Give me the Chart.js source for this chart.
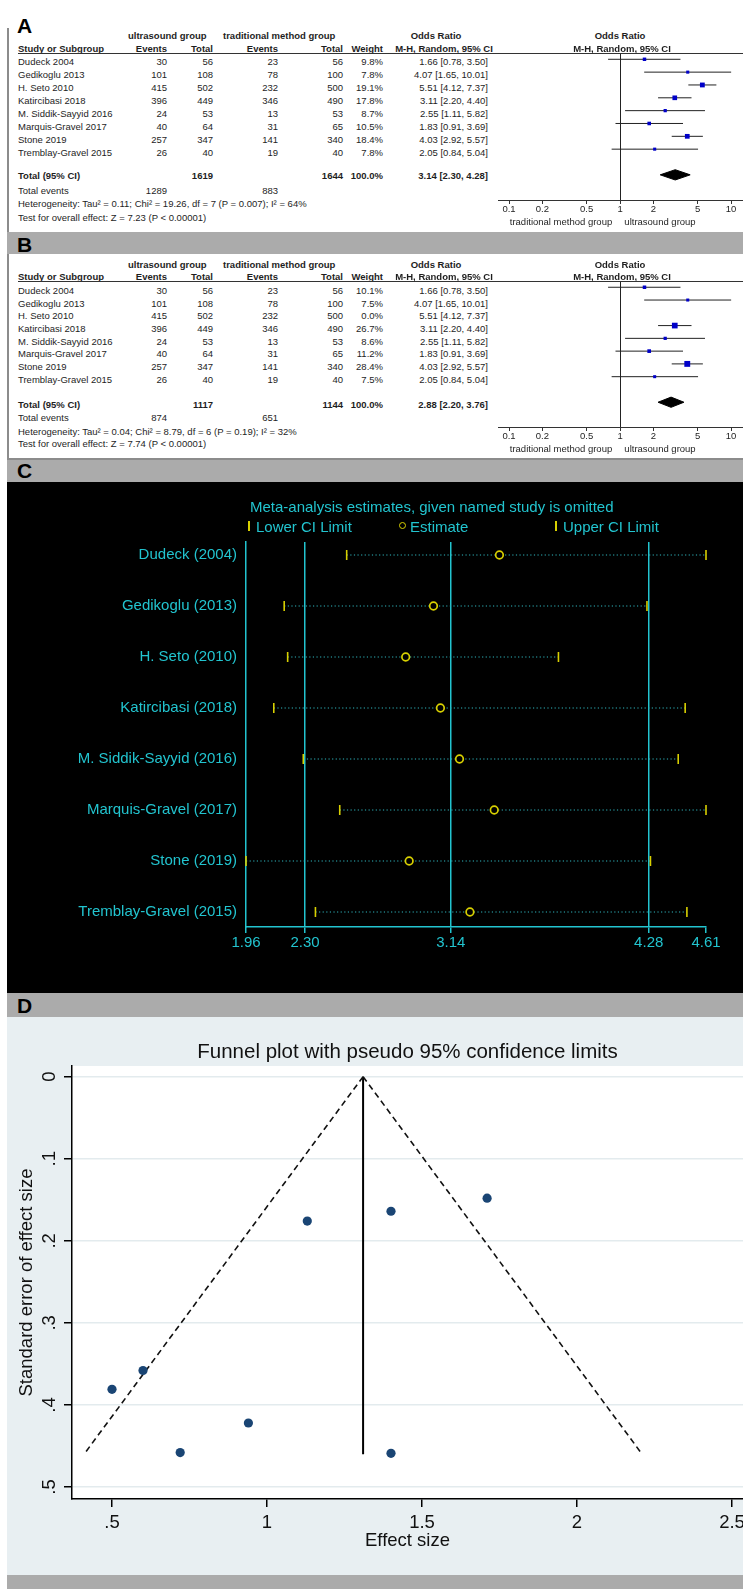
<!DOCTYPE html>
<html>
<head>
<meta charset="utf-8">
<title>Ultrasound group vs traditional method group: meta-analysis</title>
<script src="https://cdn.jsdelivr.net/npm/chart.js@4.4.1/dist/chart.umd.min.js"></script>
<style>
  html, body { margin: 0; padding: 0; }
  body { width: 743px; height: 1589px; overflow: hidden; position: relative; background: #fff;
         font-family: "Liberation Sans", Arial, Helvetica, sans-serif; color: #1e1e1e; }
  .t { position: absolute; white-space: nowrap; }
  .band { position: absolute; left: 7px; width: 736px; background: #ababab; }
  .rule { position: absolute; background: #8c8c8c; }
  .plabel { position: absolute; left: 17px; font-size: 21px; line-height: 21px; font-weight: bold; color: #000; }
  canvas { position: absolute; display: block; }
</style>
</head>
<body>
<!-- panel frames and separator bands -->
<div class="rule" style="left:7px;top:28px;width:1.5px;height:204px"></div>
<div class="band" style="top:232px;height:22px"></div>
<div class="rule" style="left:7px;top:254px;width:1.5px;height:206px"></div>
<div class="rule" style="left:7px;top:458px;width:736px;height:1.5px"></div>
<div class="band" style="top:460px;height:22px"></div>
<div style="position:absolute;left:7px;top:482px;width:736px;height:511px;background:#000"></div>
<div class="band" style="top:993px;height:24px"></div>
<div class="band" style="top:1575px;height:14px"></div>
<div class="plabel" style="top:15px">A</div>
<div class="plabel" style="top:234px">B</div>
<div class="plabel" style="top:460px">C</div>
<div class="plabel" style="top:995px">D</div>

<canvas id="forestA" width="245" height="177" style="left:498px;top:53px"></canvas>
<canvas id="forestB" width="245" height="176" style="left:498px;top:281px"></canvas>
<canvas id="omitC" width="736" height="510" style="left:7px;top:482px"></canvas>
<canvas id="funnelD" width="736" height="558" style="left:7px;top:1017px;background:#e8eff2"></canvas>

<script>
// ---------- study data ----------
const studies = ['Dudeck 2004', 'Gedikoglu 2013', 'H. Seto 2010', 'Katircibasi 2018',
                 'M. Siddik-Sayyid 2016', 'Marquis-Gravel 2017', 'Stone 2019', 'Tremblay-Gravel 2015'];
const usEvents = [30, 101, 415, 396, 24, 40, 257, 26];
const usTotal  = [56, 108, 502, 449, 53, 64, 347, 40];
const tmEvents = [23, 78, 232, 346, 13, 31, 141, 19];
const tmTotal  = [56, 100, 500, 490, 53, 65, 340, 40];
const orEst  = [1.66, 4.07, 5.51, 3.11, 2.55, 1.83, 4.03, 2.05];
const orLow  = [0.78, 1.65, 4.12, 2.20, 1.11, 0.91, 2.92, 0.84];
const orHigh = [3.50, 10.01, 7.37, 4.40, 5.82, 3.69, 5.57, 5.04];
const orTicks = [0.1, 0.2, 0.5, 1, 2, 5, 10];
const orTickLabels = ['0.1', '0.2', '0.5', '1', '2', '5', '10'];

// all studies
const weightsA = [9.8, 7.8, 19.1, 17.8, 8.7, 10.5, 18.4, 7.8];
const pooledA  = [3.14, 2.30, 4.28];
const totalsA  = [1619, 1644];
const eventsA  = [1289, 883];
const hetA  = 'Heterogeneity: Tau² = 0.11; Chi² = 19.26, df = 7 (P = 0.007); I² = 64%';
const testA = 'Test for overall effect: Z = 7.23 (P < 0.00001)';

// H. Seto 2010 excluded
const weightsB = [10.1, 7.5, 0.0, 26.7, 8.6, 11.2, 28.4, 7.5];
const pooledB  = [2.88, 2.20, 3.76];
const totalsB  = [1117, 1144];
const eventsB  = [874, 651];
const hetB  = 'Heterogeneity: Tau² = 0.04; Chi² = 8.79, df = 6 (P = 0.19); I² = 32%';
const testB = 'Test for overall effect: Z = 7.74 (P < 0.00001)';

// leave-one-out sensitivity analysis
const omitStudies = ['Dudeck (2004)', 'Gedikoglu (2013)', 'H. Seto (2010)', 'Katircibasi (2018)',
                     'M. Siddik-Sayyid (2016)', 'Marquis-Gravel (2017)', 'Stone (2019)', 'Tremblay-Gravel (2015)'];
const omitEst  = [3.42, 3.04, 2.88, 3.08, 3.19, 3.39, 2.90, 3.25];
const omitLow  = [2.54, 2.18, 2.20, 2.12, 2.29, 2.50, 1.96, 2.36];
const omitHigh = [4.61, 4.27, 3.76, 4.49, 4.45, 4.61, 4.29, 4.50];
const refTicks = [1.96, 2.30, 3.14, 4.28, 4.61];
const refTickLabels = ['1.96', '2.30', '3.14', '4.28', '4.61'];

// funnel plot
const funnelEffect = [0.50, 1.40, 1.71, 1.13, 0.94, 0.60, 1.40, 0.72];
const funnelSE     = [0.381, 0.459, 0.148, 0.176, 0.422, 0.358, 0.164, 0.458];
const limitLeft  = [[1.31, 0], [0.41, 0.46]];
const limitRight = [[1.31, 0], [2.21, 0.46]];
const centreLine = [[1.31, 0], [1.31, 0.46]];
const seTicks = [0, 0.1, 0.2, 0.3, 0.4, 0.5];
const seTickLabels = ['0', '.1', '.2', '.3', '.4', '.5'];
const esTicks = [0.5, 1, 1.5, 2, 2.5];
const esTickLabels = ['.5', '1', '1.5', '2', '2.5'];

// ---------- text helpers ----------
const PAGE_W = 743;
function put(text, x, cy, align, size, style) {
  const d = document.createElement('div');
  d.className = 't';
  d.textContent = text;
  d.style.fontSize = size + 'px';
  d.style.lineHeight = size + 'px';
  d.style.top = (cy - size / 2) + 'px';
  if (align === 'right') d.style.right = (PAGE_W - x) + 'px';
  else if (align === 'center') { d.style.left = x + 'px'; d.style.transform = 'translateX(-50%)'; }
  else d.style.left = x + 'px';
  if (style) Object.assign(d.style, style);
  document.body.appendChild(d);
  return d;
}
function ci(i) { return `${orEst[i].toFixed(2)} [${orLow[i].toFixed(2)}, ${orHigh[i].toFixed(2)}]`; }

// column anchors of the forest tables
const col = { name: 18, usEv: 167, usTot: 213, tmEv: 278, tmTot: 343, wt: 383, orTxt: 488 };
const FS = 9.5;
const bold = { fontWeight: 'bold' };

function forestTable(g, weights, pooled, totals, events, het, test) {
  put('ultrasound group', 128, g.h1, 'left', FS, bold);
  put('traditional method group', 223, g.h1, 'left', FS, bold);
  put('Odds Ratio', 436, g.h1, 'center', FS, bold);
  put('Odds Ratio', 620, g.h1, 'center', FS, bold);
  put('Study or Subgroup', col.name, g.h2, 'left', FS, bold);
  put('Events', col.usEv, g.h2, 'right', FS, bold);
  put('Total', col.usTot, g.h2, 'right', FS, bold);
  put('Events', col.tmEv, g.h2, 'right', FS, bold);
  put('Total', col.tmTot, g.h2, 'right', FS, bold);
  put('Weight', col.wt, g.h2, 'right', FS, bold);
  put('M-H, Random, 95% CI', 444, g.h2, 'center', FS, bold);
  put('M-H, Random, 95% CI', 622, g.h2, 'center', FS, bold);
  const ln = document.createElement('div');
  ln.className = 'rule';
  Object.assign(ln.style, { left: col.name + 'px', top: g.line + 'px', width: (PAGE_W - col.name) + 'px', height: '1px', background: '#333' });
  document.body.appendChild(ln);
  studies.forEach((s, i) => {
    const y = g.row0 + g.step * i;
    put(s, col.name, y, 'left', FS);
    put(String(usEvents[i]), col.usEv, y, 'right', FS);
    put(String(usTotal[i]), col.usTot, y, 'right', FS);
    put(String(tmEvents[i]), col.tmEv, y, 'right', FS);
    put(String(tmTotal[i]), col.tmTot, y, 'right', FS);
    put(weights[i].toFixed(1) + '%', col.wt, y, 'right', FS);
    put(ci(i), col.orTxt, y, 'right', FS);
  });
  put('Total (95% CI)', col.name, g.total, 'left', FS, bold);
  put(String(totals[0]), col.usTot, g.total, 'right', FS, bold);
  put(String(totals[1]), col.tmTot, g.total, 'right', FS, bold);
  put('100.0%', col.wt, g.total, 'right', FS, bold);
  put(`${pooled[0].toFixed(2)} [${pooled[1].toFixed(2)}, ${pooled[2].toFixed(2)}]`, col.orTxt, g.total, 'right', FS, bold);
  put('Total events', col.name, g.tev, 'left', FS);
  put(String(events[0]), col.usEv, g.tev, 'right', FS);
  put(String(events[1]), col.tmEv, g.tev, 'right', FS);
  put(het, col.name, g.het, 'left', FS);
  put(test, col.name, g.test, 'left', FS);
  put('traditional method group', 561, g.axisLbl, 'center', FS);
  put('ultrasound group', 660, g.axisLbl, 'center', FS);
}

forestTable({ h1: 35.7, h2: 49, line: 53, row0: 62, step: 12.9, total: 176, tev: 191, het: 203.5, test: 218, axisLbl: 222 },
            weightsA, pooledA, totalsA, eventsA, hetA, testA);
forestTable({ h1: 265, h2: 277, line: 281, row0: 290.7, step: 12.66, total: 405, tev: 418, het: 431.5, test: 444, axisLbl: 449 },
            weightsB, pooledB, totalsB, eventsB, hetB, testB);

// ---------- charts ----------
Chart.defaults.font.family = '"Liberation Sans", Arial, Helvetica, sans-serif';
const noChrome = { legend: { display: false }, tooltip: { enabled: false } };

function forestChart(id, weights, pooled, yMin, yMax) {
  const shown = weights.map((w, i) => i).filter(i => weights[i] > 0);
  const totalRow = studies.length + 1;
  const datasets = [];
  datasets.push({
    data: shown.map(i => ({ x: orEst[i], y: i })),
    pointStyle: 'rect',
    pointRadius: shown.map(i => 0.78 * Math.sqrt(weights[i])),
    backgroundColor: '#0000c8', borderWidth: 0, showLine: false
  });
  shown.forEach(i => datasets.push({
    data: [{ x: orLow[i], y: i }, { x: orHigh[i], y: i }],
    showLine: true, borderColor: '#222', borderWidth: 1, pointRadius: 0
  }));
  datasets.push({
    data: [{ x: pooled[1], y: totalRow }, { x: pooled[0], y: totalRow - 0.4 }, { x: pooled[2], y: totalRow }],
    showLine: true, borderColor: '#000', borderWidth: 1, pointRadius: 0, fill: '+1', backgroundColor: '#000'
  });
  datasets.push({
    data: [{ x: pooled[1], y: totalRow }, { x: pooled[0], y: totalRow + 0.4 }, { x: pooled[2], y: totalRow }],
    showLine: true, borderColor: '#000', borderWidth: 1, pointRadius: 0, fill: false
  });
  return new Chart(document.getElementById(id), {
    type: 'scatter',
    data: { datasets },
    options: {
      responsive: false, animation: false, devicePixelRatio: 1,
      layout: { padding: 0, autoPadding: false },
      plugins: noChrome,
      scales: {
        x: {
          type: 'logarithmic', min: 0.0796, max: 12.8,
          afterBuildTicks: s => { s.ticks = orTicks.map(v => ({ value: v })); },
          afterFit: s => { s.height = 30; },
          ticks: { autoSkip: false, maxRotation: 0, minRotation: 0, padding: 0, color: '#1e1e1e',
                   font: { size: FS }, callback: (v, i) => orTickLabels[i] },
          grid: { drawOnChartArea: true, lineWidth: 1, tickLength: 4, tickColor: '#333',
                  color: c => (c.tick && c.tick.value === 1) ? '#222' : 'rgba(0,0,0,0)' },
          border: { display: true, color: '#333', width: 1 }
        },
        y: { type: 'linear', reverse: true, min: yMin, max: yMax, display: false }
      }
    }
  });
}
forestChart('forestA', weightsA, pooledA, -0.49, 10.96);
forestChart('forestB', weightsB, pooledB, -0.49, 10.94);

// ---------- leave-one-out panel ----------
const CYAN = '#22c4cf';
const YELLOW = '#d8d000';
put('Meta-analysis estimates, given named study is omitted', 250, 506, 'left', 15, { color: CYAN });
function legendBar(x) {
  const d = document.createElement('div');
  Object.assign(d.style, { position: 'absolute', left: (x - 0.75) + 'px', top: '521px', width: '1.5px', height: '10px', background: YELLOW });
  document.body.appendChild(d);
}
legendBar(249);
put('Lower CI Limit', 256, 526, 'left', 15, { color: CYAN });
const ring = document.createElement('div');
Object.assign(ring.style, { position: 'absolute', left: '398.5px', top: '521.8px', width: '5.5px', height: '5.5px',
                            border: '1.5px solid ' + YELLOW, borderRadius: '50%' });
document.body.appendChild(ring);
put('Estimate', 410, 526, 'left', 15, { color: CYAN });
legendBar(556);
put('Upper CI Limit', 563, 526, 'left', 15, { color: CYAN });

new Chart(document.getElementById('omitC'), {
  type: 'scatter',
  data: {
    datasets: [
      { data: omitEst.map((v, i) => ({ x: v, y: i })), pointStyle: 'circle', pointRadius: 3.8,
        borderColor: YELLOW, borderWidth: 1.7, backgroundColor: '#000', clip: false },
      { data: omitLow.map((v, i) => ({ x: v, y: i })), pointStyle: 'line', rotation: 90, pointRadius: 5,
        borderColor: YELLOW, borderWidth: 1.6, clip: false },
      { data: omitHigh.map((v, i) => ({ x: v, y: i })), pointStyle: 'line', rotation: 90, pointRadius: 5,
        borderColor: YELLOW, borderWidth: 1.6, clip: false },
      ...omitStudies.map((s, i) => ({
        data: [{ x: omitLow[i], y: i }, { x: omitHigh[i], y: i }],
        showLine: true, borderColor: '#2fb5bd', borderWidth: 1.2, borderDash: [1.2, 2.4], pointRadius: 0, clip: false
      }))
    ]
  },
  options: {
    responsive: false, animation: false, devicePixelRatio: 1,
    layout: { padding: { top: 60, right: 37, left: 0, bottom: 0 }, autoPadding: false },
    plugins: noChrome,
    scales: {
      x: {
        type: 'linear', min: refTicks[0], max: refTicks[refTicks.length - 1],
        afterBuildTicks: s => { s.ticks = refTicks.map(v => ({ value: v })); },
        afterFit: s => { s.height = 65; },
        ticks: { autoSkip: false, maxRotation: 0, minRotation: 0, padding: 1, color: CYAN,
                 font: { size: 15 }, callback: (v, i) => refTickLabels[i] },
        grid: { drawOnChartArea: true, lineWidth: 1.5, tickLength: 6, tickColor: CYAN,
                color: c => (c.index > 0 && c.index < refTicks.length - 1) ? CYAN : 'rgba(0,0,0,0)' },
        border: { display: true, color: CYAN, width: 1.5 }
      },
      y: {
        type: 'linear', reverse: true, min: -0.255, max: 7.294,
        afterBuildTicks: s => { s.ticks = omitStudies.map((_, i) => ({ value: i })); },
        afterFit: s => { s.width = 239; },
        ticks: { autoSkip: false, padding: 9, color: CYAN, font: { size: 15 }, callback: (v, i) => omitStudies[i] },
        grid: { drawOnChartArea: false, drawTicks: false },
        border: { display: true, color: CYAN, width: 1.5 }
      }
    }
  }
});

// ---------- funnel plot ----------
const plotBg = {
  id: 'plotBg',
  beforeDraw(chart, args, opts) {
    const { ctx, chartArea: a } = chart;
    ctx.save();
    ctx.fillStyle = opts.color || '#fff';
    ctx.fillRect(a.left, a.top, a.right - a.left, a.bottom - a.top);
    ctx.restore();
  }
};
const NAVY = '#1a4574';
new Chart(document.getElementById('funnelD'), {
  type: 'scatter',
  data: {
    datasets: [
      { data: funnelEffect.map((v, i) => ({ x: v, y: funnelSE[i] })), pointRadius: 4.6,
        backgroundColor: NAVY, borderWidth: 0 },
      { data: limitLeft.map(p => ({ x: p[0], y: p[1] })), showLine: true, borderColor: '#111',
        borderWidth: 1.6, borderDash: [6, 4], pointRadius: 0 },
      { data: limitRight.map(p => ({ x: p[0], y: p[1] })), showLine: true, borderColor: '#111',
        borderWidth: 1.6, borderDash: [6, 4], pointRadius: 0 },
      { data: centreLine.map(p => ({ x: p[0], y: p[1] })), showLine: true, borderColor: '#000',
        borderWidth: 2, pointRadius: 0 }
    ]
  },
  options: {
    responsive: false, animation: false, devicePixelRatio: 1,
    layout: { padding: 0, autoPadding: false },
    plugins: {
      legend: { display: false }, tooltip: { enabled: false },
      title: { display: true, text: 'Funnel plot with pseudo 95% confidence limits', color: '#111',
               font: { size: 20.5, weight: 'normal' }, padding: { top: 22.7, bottom: 1.7 }, fullSize: false },
      plotBg: { color: '#fff' }
    },
    scales: {
      x: {
        type: 'linear', min: 0.371, max: 2.5355,
        afterBuildTicks: s => { s.ticks = esTicks.map(v => ({ value: v })); },
        afterFit: s => { s.height = 76; s.paddingLeft = 0; s.paddingRight = 0; },
        ticks: { autoSkip: false, maxRotation: 0, minRotation: 0, padding: 5, color: '#111',
                 font: { size: 18.5 }, callback: (v, i) => esTickLabels[i] },
        grid: { drawOnChartArea: false, tickColor: '#000', tickLength: 8, lineWidth: 1.5 },
        border: { display: true, color: '#000', width: 1.5 },
        title: { display: true, text: 'Effect size', color: '#111', font: { size: 18.5 }, padding: { top: 0, bottom: 22.9 } }
      },
      y: {
        type: 'linear', reverse: true, min: -0.013, max: 0.5146,
        afterBuildTicks: s => { s.ticks = seTicks.map(v => ({ value: v })); },
        afterFit: s => { s.width = 65; },
        ticks: { autoSkip: false, minRotation: 90, maxRotation: 90, crossAlign: 'center', padding: 6.5,
                 color: '#111', font: { size: 18.5 }, callback: (v, i) => seTickLabels[i] },
        grid: { drawOnChartArea: true, color: '#e3ebee', lineWidth: 1.5, tickColor: '#000', tickLength: 8 },
        border: { display: true, color: '#000', width: 1.5 },
        title: { display: true, text: 'Standard error of effect size', color: '#111', font: { size: 18.5 },
                 padding: { top: 9, bottom: 0 } }
      }
    }
  },
  plugins: [plotBg]
});
</script>
</body>
</html>
